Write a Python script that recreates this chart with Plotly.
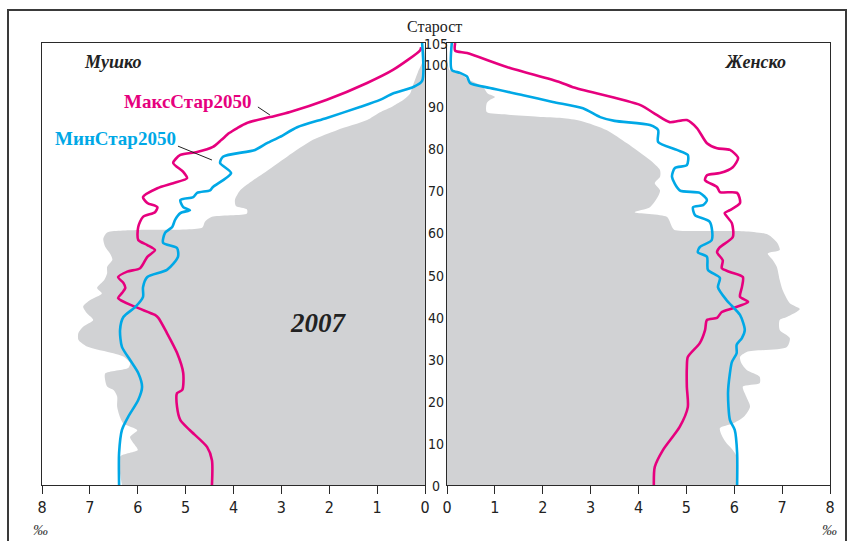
import plotly.graph_objects as go

# ---------------- data ----------------
age_ticks = [0, 10, 20, 30, 40, 50, 60, 70, 80, 90, 100, 105]
x_ticks = [0, 1, 2, 3, 4, 5, 6, 7, 8]

# Male, 2007 (per mille)
male_2007_age = [105, 101, 98, 95, 93, 91.5, 90, 88.5, 86.7, 84.3, 82, 78, 74, 72.4, 70, 67.7, 66.3,
                 65.5, 64.5, 63.7, 62.5, 61.2, 60.6, 60.0, 58.5, 56.6, 55.0, 53.5, 51.8, 50.3, 48.7, 46.8,
                 45.5, 43.9, 42.4, 40.8, 39.2, 37.6, 36.1, 34.5, 32.9, 31.3, 30.5, 28.9, 27.8, 26.5,
                 24.9, 23.4, 22.5, 21.0, 18.6, 16.1, 14.6, 13.0, 11.4, 9.8, 8.3, 6.7, 0]
male_2007_val = [0, 0.04, 0.15, 0.25, 0.31, 0.45, 0.67, 0.95, 1.21, 1.84, 2.34, 2.88, 3.38, 3.59, 3.86, 3.97, 3.95,
                 3.72, 3.72, 4.45, 4.6, 4.65, 6.0, 6.64, 6.72, 6.68, 6.58, 6.53, 6.64, 6.64, 6.70, 6.85,
                 6.75, 7.0, 7.14, 7.06, 6.93, 7.14, 7.24, 7.24, 7.06, 6.51, 6.30, 6.16, 6.2, 6.68,
                 6.68, 6.64, 6.5, 6.43, 6.43, 6.37, 6.3, 6.01, 6.16, 6.08, 6.0, 6.37, 6.33]

# Male, MaksStar2050
male_max_age = [104, 103.3, 98.6, 95.5, 91.5, 88.6, 87.4, 86, 84.8, 83.6, 82, 80.3, 79.1, 78.4, 76.5,
                74.4, 72.9, 71.7, 70.5, 68.4, 67, 66, 64.8, 63.7, 61.3, 58.2, 57, 55.8, 54.2, 51.5,
                50.7, 49.4, 48, 46.8, 45.6, 44.4, 42.3, 40.4, 39.7, 36.1, 31.4, 26.6, 22.6, 21.8,
                18.6, 15.4, 13, 9, 5.9, 0]
male_max_val = [0.08, 0.1, 0.67, 1.21, 2.05, 2.82, 3.24, 3.72, 3.92, 4.09, 4.25, 4.43, 4.76, 5.11, 5.26,
                5.05, 4.97, 5.26, 5.59, 5.89, 5.80, 5.59, 5.64, 5.89, 5.99, 5.99, 5.80, 5.64, 5.80, 5.95,
                6.22, 6.41, 6.30, 6.26, 6.33, 6.41, 6.05, 5.64, 5.57, 5.39, 5.18, 5.05, 5.07, 5.18,
                5.18, 5.11, 4.91, 4.55, 4.45, 4.45]

# Male, MinStar2050
male_min_age = [105, 96, 94.5, 93, 91.5, 89.8, 87.2, 85, 82.7, 81.2, 79.6, 78, 76.5, 74.1, 70.8, 70,
                69.4, 68.4, 67.7, 66, 65.3, 64.6, 63, 61.3, 59.9, 57.5, 56.3, 54.2, 51.1, 49.4, 47,
                44.7, 42.3, 39.9, 36.8, 32.8, 29.7, 26.6, 23.3, 20.2, 16.2, 13.1, 7.6, 0]
male_min_val = [0.06, 0.06, 0.25, 0.67, 0.94, 1.36, 2.05, 2.67, 3.03, 3.30, 3.55, 4.22, 4.28, 4.05, 4.43, 4.49,
                4.76, 4.84, 5.11, 5.05, 4.91, 5.11, 5.22, 5.28, 5.43, 5.47, 5.18, 5.16, 5.39, 5.80, 5.89,
                5.89, 6.05, 6.30, 6.37, 6.33, 6.16, 5.99, 5.91, 5.99, 6.20, 6.33, 6.39, 6.39]

# Female, 2007
female_2007_age = [105, 100, 98.6, 97.9, 96.5, 94.6, 93, 92.2, 91.5, 90.7, 88.6, 88, 87.5, 87.2, 86.5,
                   84.3, 81.2, 77.2, 74.8, 73.2, 71.7, 70, 68.4, 66, 64.8, 63.7, 61.3, 60.6, 60.3,
                   59.5, 57.5, 55.8, 55.0, 53.5, 51.8, 48.7, 46.3, 43.2, 41.8, 39.9, 39.2, 36.8, 34.9,
                   32.8, 31.6, 30.4, 28.9, 27.3, 25.7, 24.2, 23.4, 21, 18.6, 16.2, 14.6, 13.5, 11.5,
                   9.9, 8.3, 6.7, 0]
female_2007_val = [0, 0.02, 0.05, 0.27, 0.42, 0.75, 0.85, 1.0, 0.9, 0.83, 0.83, 1.25, 1.9, 2.4, 2.8,
                   3.34, 3.76, 4.24, 4.45, 4.45, 4.34, 4.45, 4.40, 4.24, 3.92, 4.59, 4.70, 4.75, 6.2,
                   6.7, 6.9, 6.95, 6.70, 6.80, 6.89, 6.95, 7.01, 7.16, 7.37, 7.1, 6.95, 6.95, 7.16,
                   7.10, 6.26, 6.12, 6.15, 6.26, 6.53, 6.53, 6.18, 6.25, 6.33, 6.2, 5.97, 5.70, 5.75,
                   5.84, 5.97, 6.05, 6.05]

# Female, MaksStar2050
female_max_age = [105, 103.2, 102.6, 99.3, 95.7, 94.5, 90.3, 87.9, 86.2, 86.7, 84.8, 81.2, 80, 79.6, 77.7,
                  75.5, 74.1, 73.6, 72.4, 70.8, 69.6, 69.4, 67, 65.3, 64.6, 62.2, 58.9, 56.5, 55.3,
                  53.4, 51.5, 50.6, 49.4, 47, 44.7, 43.5, 42, 41.1, 39.7, 39.2, 36.8, 33.7, 30.4, 28,
                  23.3, 18.5, 13.8, 8.3, 4.3, 0]
female_max_val = [0.17, 0.17, 0.42, 1.25, 2.36, 2.63, 4.03, 4.38, 4.65, 5.01, 5.22, 5.43, 5.64, 5.91, 6.08,
                  5.97, 5.70, 5.43, 5.39, 5.64, 5.70, 6.06, 6.12, 5.91, 5.80, 5.95, 5.97, 5.70, 5.64,
                  5.76, 5.74, 5.91, 6.18, 6.16, 6.12, 6.29, 5.97, 5.74, 5.64, 5.43, 5.39, 5.28, 5.03, 5.01,
                  5.01, 5.03, 4.86, 4.51, 4.34, 4.32]

# Female, MinStar2050
female_min_age = [105, 98.6, 97.9, 97, 95.5, 94.3, 92.6, 91, 89.5, 87.4, 86.5, 85.5, 84.3, 81.5, 79.6,
                  78.4, 76, 75.3, 73.2, 70, 69.4, 67.7, 66.5, 66, 64.1, 62.5, 58.2, 56.5, 55.3, 54.2,
                  51.1, 49.2, 47, 43.9, 40.4, 36.8, 34.9, 33.3, 31.3, 29.2, 26.6, 21.9, 15.4, 13.1,
                  7.6, 0]
female_min_val = [0.10, 0.10, 0.27, 0.42, 0.48, 0.90, 1.59, 2.21, 2.84, 3.20, 3.50, 4.24, 4.41, 4.41, 4.80,
                  5.03, 5.01, 4.76, 4.70, 4.86, 5.28, 5.43, 5.35, 5.14, 5.18, 5.49, 5.53, 5.28, 5.24, 5.43,
                  5.45, 5.70, 5.66, 5.84, 6.12, 6.22, 6.16, 6.05, 6.05, 5.95, 5.91, 5.87, 5.91, 6.01,
                  6.06, 6.06]

# ---------------- style ----------------
GRAY = "#d1d2d4"
MAG = "#e6007e"
CYAN = "#00a8e6"
AX = "#2a2a2a"
SANS_N = "Liberation Sans Narrow, DejaVu Sans Condensed, Arial Narrow, sans-serif"
SERIF = "Liberation Serif, Times New Roman, serif"

W, H = 849, 541
def px(xp):
    return xp / W
def py(yp):
    return 1 - yp / H

fig = go.Figure()

def add_area(xs, ys, xa, ya):
    fig.add_trace(go.Scatter(x=xs, y=ys, xaxis=xa, yaxis=ya, mode="lines", fill="tozerox",
                             fillcolor=GRAY, line=dict(width=0, color=GRAY, shape="spline", smoothing=0.7),
                             hoverinfo="skip", showlegend=False))

def add_line(xs, ys, xa, ya, color):
    fig.add_trace(go.Scatter(x=xs, y=ys, xaxis=xa, yaxis=ya, mode="lines",
                             line=dict(width=2.6, color=color, shape="spline", smoothing=0.7),
                             hoverinfo="skip", showlegend=False))

add_area(male_2007_val, male_2007_age, "x", "y")
add_area(female_2007_val, female_2007_age, "x2", "y2")
add_line(male_max_val, male_max_age, "x", "y", MAG)
add_line(male_min_val, male_min_age, "x", "y", CYAN)
add_line(female_max_val, female_max_age, "x2", "y2", MAG)
add_line(female_min_val, female_min_age, "x2", "y2", CYAN)

y_dom = [py(485), py(43)]
xcommon = dict(tickvals=x_ticks, ticktext=[str(v) for v in x_ticks], ticks="outside", ticklen=8,
               tickwidth=1.2, tickcolor=AX, showline=True, linecolor=AX, linewidth=1.4, mirror=True,
               showgrid=False, zeroline=False, tickfont=dict(family=SANS_N, size=16, color="#222"),
               fixedrange=True, automargin=False)
ycommon = dict(range=[0, 105], showline=True, linecolor=AX, linewidth=1.4, mirror=True,
               showgrid=False, zeroline=False, showticklabels=False, ticks="", domain=y_dom,
               fixedrange=True, automargin=False)

fig.update_layout(
    width=W, height=H, autosize=False,
    margin=dict(l=0, r=0, t=0, b=0, pad=0, autoexpand=False),
    paper_bgcolor="white", plot_bgcolor="rgba(0,0,0,0)",
    xaxis=dict(domain=[px(42), px(425)], range=[8, 0], anchor="y", **xcommon),
    yaxis=dict(anchor="x", **ycommon),
    xaxis2=dict(domain=[px(447), px(830)], range=[0, 8], anchor="y2", **xcommon),
    yaxis2=dict(anchor="x2", **ycommon),
    showlegend=False,
)

# y tick labels between the two panels
for a in age_ticks:
    fig.add_annotation(x=px(436), xref="paper", y=a, yref="y", text=str(a), showarrow=False,
                       xanchor="center", yanchor="middle", yshift=-1,
                       font=dict(family=SANS_N, size=14, color="#222"))

# texts
fig.add_annotation(x=px(434), y=py(27), xref="paper", yref="paper", text="Старост", showarrow=False,
                   xanchor="center", yanchor="middle",
                   font=dict(family=SERIF, size=16, color="#222"))
fig.add_annotation(x=6.53, y=100.5, xref="x", yref="y", text="<b><i>Мушко</i></b>", showarrow=False,
                   font=dict(family=SERIF, size=18, color="#222"))
fig.add_annotation(x=6.43, y=100.5, xref="x2", yref="y2", text="<b><i>Женско</i></b>", showarrow=False,
                   font=dict(family=SERIF, size=18, color="#222"))
fig.add_annotation(x=4.97, y=91, xref="x", yref="y", text="<b>МаксСтар2050</b>", showarrow=False,
                   font=dict(family=SERIF, size=19, color=MAG))
fig.add_annotation(x=6.47, y=82.4, xref="x", yref="y", text="<b>МинСтар2050</b>", showarrow=False,
                   font=dict(family=SERIF, size=19, color=CYAN))
fig.add_annotation(x=2.23, y=38.5, xref="x", yref="y", text="<b><i>2007</i></b>", showarrow=False,
                   font=dict(family=SERIF, size=27, color="#222"))
for xp in (40, 829):
    fig.add_annotation(x=px(xp), y=py(530), xref="paper", yref="paper", text="<i>‰</i>", showarrow=False,
                       xanchor="center", yanchor="middle",
                       font=dict(family=SERIF, size=15, color="#333"))

# leader lines
fig.add_shape(type="line", xref="x", yref="y", x0=3.49, y0=89.8, x1=3.24, y1=87.9,
              line=dict(color="#222", width=1))
fig.add_shape(type="line", xref="x", yref="y", x0=5.16, y0=80.5, x1=4.45, y1=77.2,
              line=dict(color="#222", width=1))

# outer frame (its bottom edge runs off the picture)
fig.add_shape(type="rect", xref="paper", yref="paper", x0=px(8), x1=px(846), y0=-0.03, y1=py(10),
              line=dict(color="#3a3a3a", width=2), fillcolor="rgba(0,0,0,0)", layer="above")

fig.write_html("out.html", config={"displayModeBar": False},
               post_script="document.body.style.margin='0';")
